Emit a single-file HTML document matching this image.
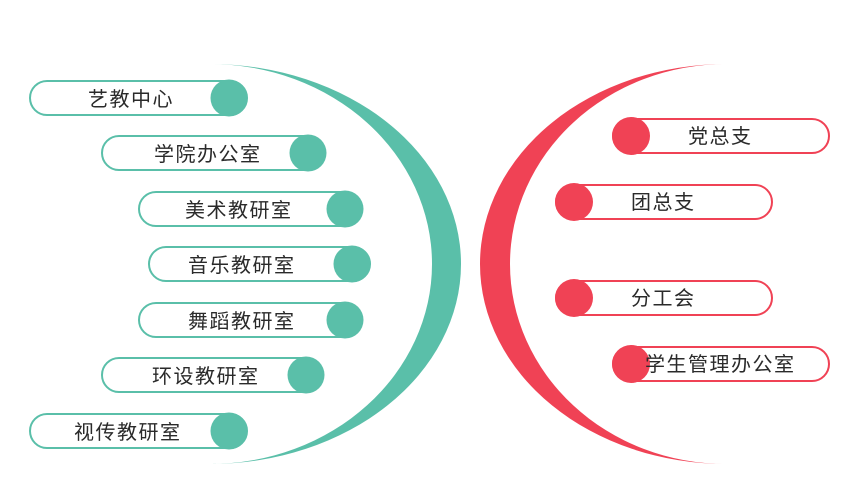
<!DOCTYPE html>
<html><head><meta charset="utf-8"><style>
html,body{margin:0;padding:0;background:#fff;}
svg{display:block;}
text{font-family:"Liberation Sans","Noto Sans CJK SC",sans-serif;fill:#2a2a2a;letter-spacing:1.5px;}
</style></head><body>
<svg width="863" height="500" viewBox="0 0 863 500">
<path d="M210 64 A251 200 0 0 1 210 464 A222 200 0 0 0 210 64 Z" fill="#5abfa9"/>
<path d="M726 64 A246 200 0 0 0 726 464 A216 200 0 0 1 726 64 Z" fill="#f04255"/>
<g stroke="#5abfa9" stroke-width="2" fill="#fff">
<rect x="30" y="81" width="217" height="34" rx="17"/>
<rect x="102" y="136" width="223" height="34" rx="17"/>
<rect x="139" y="192" width="223" height="34" rx="17"/>
<rect x="149" y="247" width="221" height="34" rx="17"/>
<rect x="139" y="303" width="223" height="34" rx="17"/>
<rect x="102" y="358" width="221" height="34" rx="17"/>
<rect x="30" y="414" width="217" height="34" rx="17"/>
</g>
<g fill="#5abfa9">
<circle cx="229" cy="98" r="18.5"/>
<circle cx="308" cy="153" r="18.5"/>
<circle cx="345" cy="209" r="18.5"/>
<circle cx="352" cy="264" r="18.5"/>
<circle cx="345" cy="320" r="18.5"/>
<circle cx="306" cy="375" r="18.5"/>
<circle cx="229" cy="431" r="18.5"/>
</g>
<g font-size="20">
<text x="88" y="106">艺教中心</text>
<text x="154" y="161">学院办公室</text>
<text x="185" y="217">美术教研室</text>
<text x="188" y="272">音乐教研室</text>
<text x="188" y="328">舞蹈教研室</text>
<text x="152" y="383">环设教研室</text>
<text x="74" y="439">视传教研室</text>
</g>
<g stroke="#f04255" stroke-width="2" fill="#fff">
<rect x="613" y="119" width="216" height="34" rx="17"/>
<rect x="556" y="185" width="216" height="34" rx="17"/>
<rect x="556" y="281" width="216" height="34" rx="17"/>
<rect x="613" y="347" width="216" height="34" rx="17"/>
</g>
<g fill="#f04255">
<circle cx="631" cy="136" r="19"/>
<circle cx="574" cy="202" r="19"/>
<circle cx="574" cy="298" r="19"/>
<circle cx="631" cy="364" r="19"/>
</g>
<g font-size="20">
<text x="688" y="143">党总支</text>
<text x="631" y="209">团总支</text>
<text x="631" y="305">分工会</text>
<text x="645" y="371">学生管理办公室</text>
</g>
</svg>
</body></html>
